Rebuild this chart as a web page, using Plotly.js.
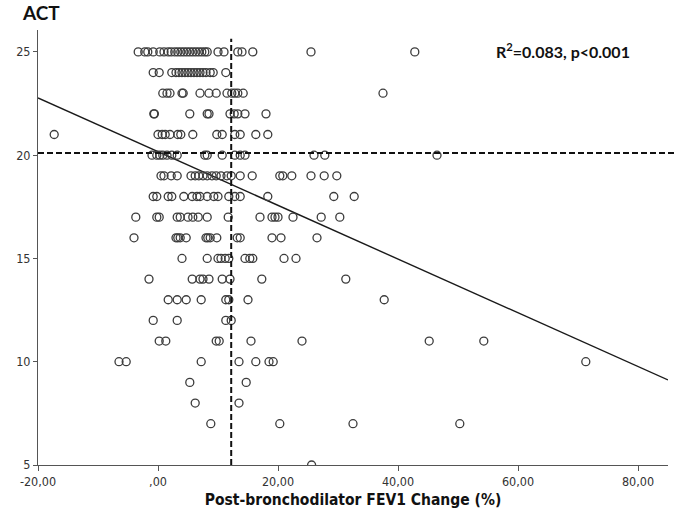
<!DOCTYPE html>
<html>
<head>
<meta charset="utf-8">
<script src="https://cdn.plot.ly/plotly-3.0.1.min.js"></script>
<style>
  html, body { margin: 0; padding: 0; background: #fff; }
  #chart { width: 681px; height: 516px; }
</style>
</head>
<body>
<div id="chart"></div>
<script>
// FEV1 change (%) values for each ACT score row
const fev_act25 = [-3.3, -2.2, -1.7, -0.8, 0.3, 1, 1.7, 2.2, 2.8, 3.3, 3.8, 4.3, 4.8, 5.3, 5.8, 6.3, 6.8, 7.3, 7.8, 8.2, 10, 11, 13.3, 14, 15.8, 25.5, 42.8];
const fev_act24 = [-0.8, 0.2, 2.3, 3, 3.5, 4, 4.5, 5, 5.5, 6, 6.5, 7, 7.5, 8, 8.7, 9.2, 11.3];
const fev_act23 = [0.8, 1.5, 2, 4, 4.2, 7, 8.5, 9.7, 11.5, 12.3, 12.8, 13.3, 14.2, 37.5];
const fev_act22 = [-0.7, -0.6, 5.3, 8.2, 8.5, 12, 12.7, 13.3, 14.5, 18];
const fev_act21 = [-17.3, 0, 0.7, 1.2, 2, 3.3, 3.8, 5.8, 9.8, 10.7, 12.8, 13.7, 16.3, 18.3];
const fev_act20 = [-1, -0.2, 0.3, 0.8, 1.5, 2.3, 3.2, 7.8, 8.2, 10.7, 12.8, 13.7, 14.5, 26, 27.8, 46.5];
const fev_act19 = [0.5, 1, 2.2, 3.2, 5.5, 6.2, 6.8, 7.5, 8.2, 9, 9.7, 10.5, 11.5, 12.2, 13.7, 15.7, 20.3, 20.8, 22.3, 25.5, 27.7, 29.8];
const fev_act18 = [-0.8, -0.2, 1.7, 2.3, 4.3, 5.7, 6.5, 7, 8.2, 9.3, 10, 11.8, 12.8, 13.7, 18.3, 29.3, 32.7];
const fev_act17 = [-3.7, -0.2, 0.2, 3.2, 3.7, 5, 5.8, 6.7, 8.2, 11.7, 17, 19, 19.5, 20, 22.5, 27.2, 30.3];
const fev_act16 = [-4, 3, 3.3, 3.7, 4.7, 8, 8.3, 8.7, 9.8, 13.2, 13.7, 19, 20.5, 26.5];
const fev_act15 = [4, 8.2, 10, 10.5, 11.2, 11.8, 14.5, 15.3, 15.8, 21, 23];
const fev_act14 = [-1.5, 5.7, 7, 7.5, 8.5, 10.7, 12, 17.3, 31.3];
const fev_act13 = [1.7, 3.2, 4.7, 7.2, 11.3, 11.8, 15, 37.7];
const fev_act12 = [-0.8, 3.2, 11.3, 12.2];
const fev_act11 = [0.2, 1.3, 9.7, 10.2, 15.5, 24, 45.2, 54.3];
const fev_act10 = [-6.5, -5.3, 7.2, 13.5, 16.3, 18.5, 19.2, 71.3];
const fev_act9 = [5.3, 14.7];
const fev_act8 = [6.2, 13.5];
const fev_act7 = [8.8, 20.3, 32.5, 50.3];
const fev_act5 = [25.6];

const actScores = [25, 24, 23, 22, 21, 20, 19, 18, 17, 16, 15, 14, 13, 12, 11, 10, 9, 8, 7, 5];
const fevRows = [fev_act25, fev_act24, fev_act23, fev_act22, fev_act21, fev_act20, fev_act19, fev_act18,
  fev_act17, fev_act16, fev_act15, fev_act14, fev_act13, fev_act12, fev_act11, fev_act10, fev_act9,
  fev_act8, fev_act7, fev_act5];

// fitted regression line and reference lines
const fitIntercept = 20.17;
const fitSlope = -0.130;
const fitXRange = [-20, 85];
const refFev = 12.2;   // vertical dashed reference
const refAct = 20.1;   // horizontal dashed reference

const xTickVals = [-20, 0, 20, 40, 60, 80];
const xTickText = ['-20,00', ',00', '20,00', '40,00', '60,00', '80,00'];
const yTickVals = [5, 10, 15, 20, 25];
const yTickText = ['5', '10', '15', '20', '25'];
const xRange = [-20, 85];
const yRange = [5, 26.06];

const px = [], py = [];
fevRows.forEach((row, i) => row.forEach(v => { px.push(v); py.push(actScores[i]); }));

const scatter = {
  type: 'scatter', mode: 'markers', x: px, y: py,
  marker: { symbol: 'circle-open', size: 8, color: '#3c3c3c', line: { width: 1.3, color: '#3c3c3c' } },
  hoverinfo: 'x+y', showlegend: false
};
const fit = {
  type: 'scatter', mode: 'lines',
  x: fitXRange, y: fitXRange.map(v => fitIntercept + fitSlope * v),
  line: { color: '#1a1a1a', width: 1.4 }, hoverinfo: 'skip', showlegend: false
};

const yPaper = (refAct - yRange[0]) / (yRange[1] - yRange[0]);
const axisFont = { family: '"DejaVu Sans Condensed", "DejaVu Sans", sans-serif', size: 12.5, color: '#333' };

const layout = {
  width: 681, height: 516,
  margin: { l: 38, r: 13, t: 30, b: 51 },
  paper_bgcolor: '#fff', plot_bgcolor: '#fff',
  xaxis: {
    range: xRange, tickvals: xTickVals, ticktext: xTickText,
    showgrid: false, zeroline: false, showline: true, linecolor: '#555', linewidth: 1,
    ticks: 'outside', ticklen: 5, tickcolor: '#555', tickfont: axisFont,
    title: { text: 'Post-bronchodilator FEV1 Change (%)', standoff: 6,
      font: { family: '"DejaVu Sans Condensed", "DejaVu Sans", sans-serif', size: 15.5, color: '#111', weight: 'bold' } }
  },
  yaxis: {
    range: yRange, tickvals: yTickVals, ticktext: yTickText,
    showgrid: false, zeroline: false, showline: true, linecolor: '#555', linewidth: 1,
    ticks: 'outside', ticklen: 4, tickcolor: '#555', tickfont: axisFont
  },
  shapes: [
    { type: 'line', xref: 'x', yref: 'paper', x0: refFev, x1: refFev, y0: 0, y1: 0.98,
      line: { color: '#111', width: 2, dash: '6px,3px' } },
    { type: 'line', xref: 'paper', yref: 'paper', x0: 0, x1: 1.011, y0: yPaper, y1: yPaper,
      line: { color: '#111', width: 2, dash: '6px,3px' } }
  ],
  annotations: [
    { xref: 'paper', yref: 'paper', x: -0.029, y: 1.041, xanchor: 'left', yanchor: 'middle',
      text: '<b>ACT</b>', showarrow: false,
      font: { family: 'Lato, "Open Sans", sans-serif', size: 19, color: '#111' } },
    { xref: 'paper', yref: 'paper', x: 0.9435, y: 0.952, xanchor: 'right', yanchor: 'middle',
      text: '<b>R<sup>2</sup>=0.083, p&lt;0.001</b>', showarrow: false,
      font: { family: 'Lato, "Open Sans", sans-serif', size: 16, color: '#111' } }
  ]
};

Plotly.newPlot('chart', [fit, scatter], layout, { displayModeBar: false, staticPlot: true });
</script>
</body>
</html>
